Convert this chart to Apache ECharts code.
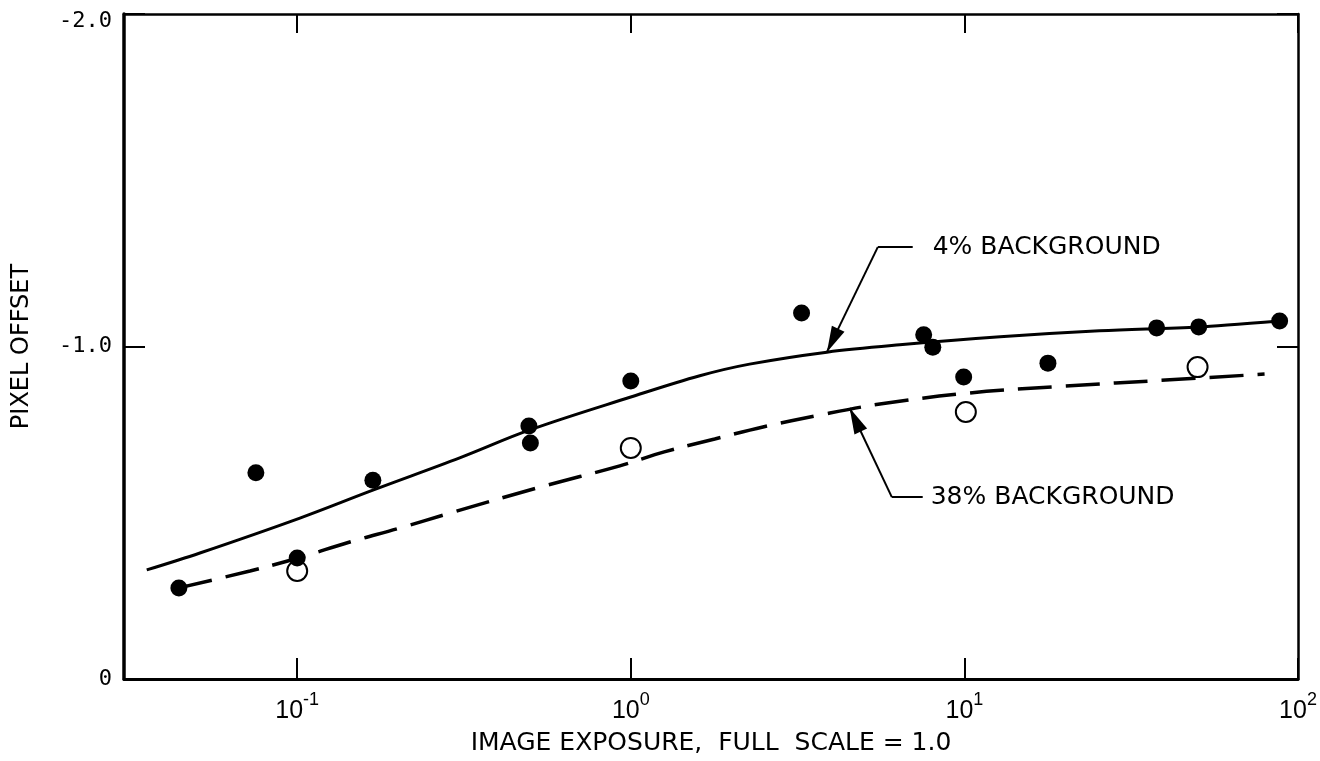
<!DOCTYPE html>
<html><head><meta charset="utf-8">
<script src="https://cdn.jsdelivr.net/npm/echarts@6/dist/echarts.min.js"></script>
<style>html,body{margin:0;padding:0;background:#fff;overflow:hidden}#c{width:1320px;height:761px}</style>
</head><body><div id="c"></div>
<script>
// ---- data ----
const xTickExponents = [-1, 0, 1, 2];
const xTickLabels = ['-1', '0', '1', '2'];
const yTickValues = [-2, -1, 0];
const yTickLabels = ['-2.0', '-1.0', '0'];

// filled dots (image exposure, pixel offset)
const filledX = [0.0442, 0.0752, 0.100, 0.1686, 0.495, 0.500, 1.0, 3.25, 7.55, 8.04, 9.95, 17.8, 37.7, 50.4, 88.1];
const filledY = [-0.274, -0.620, -0.364, -0.598, -0.761, -0.710, -0.896, -1.101, -1.035, -0.998, -0.908, -0.950, -1.056, -1.059, -1.077];

// open circles
const openX = [0.1, 1.0, 10.1, 50.0];
const openY = [-0.325, -0.695, -0.803, -0.938];

// 4% background curve (solid)
const curve4X = [0.0354, 0.0511, 0.1019, 0.1686, 0.307, 0.498, 1.0, 1.61, 2.27, 3.87, 6.40, 12.8, 25.4, 50.7, 88.0];
const curve4Y = [-0.328, -0.379, -0.484, -0.568, -0.665, -0.749, -0.848, -0.912, -0.947, -0.983, -1.005, -1.029, -1.047, -1.059, -1.077];

// 38% background curve (dashed)
const curve38X = [0.0442, 0.0722, 0.1007, 0.1438, 0.2032, 0.287, 0.534, 0.927, 1.26, 1.785, 2.49, 3.69, 5.58, 10.3, 20.1, 40.1, 79.4];
const curve38Y = [-0.274, -0.325, -0.364, -0.412, -0.454, -0.499, -0.577, -0.641, -0.683, -0.722, -0.758, -0.794, -0.827, -0.860, -0.881, -0.899, -0.917];

// annotations
const annotLabels = ['4% BACKGROUND', '38% BACKGROUND'];
const annotTips = [[3.87, -0.983], [4.53, -0.815]];
const annotElbows = [[5.5, -1.299], [6.06, -0.547]];
const annotEnds = [[7.0, -1.299], [7.5, -0.547]];

const xName = 'IMAGE EXPOSURE,  FULL  SCALE = 1.0';
const yName = 'PIXEL OFFSET';

// ---- chart ----
const zip = (a, b) => a.map((v, i) => [v, b[i]]);
const titleFont = 'DejaVu Sans';
const numFont = 'DejaVu Sans Mono';
const X_MIN = 0.03026, X_MAX = 100;

const chart = echarts.init(document.getElementById('c'), null, {renderer: 'canvas'});

const annotLines = [];
annotLabels.forEach((txt, i) => {
  annotLines.push([
    {coord: annotElbows[i], symbol: 'none'},
    {coord: annotEnds[i], symbol: 'none',
     label: {show: true, position: 'end', distance: i === 0 ? 20 : 8, formatter: txt,
             fontFamily: titleFont, fontSize: 25, color: '#000'}}
  ]);
  annotLines.push([
    {coord: annotElbows[i], symbol: 'none'},
    {coord: annotTips[i], symbol: 'triangle', symbolSize: [14, 26], symbolOffset: [0, '50%']}
  ]);
});

chart.setOption({
  backgroundColor: '#fff',
  animation: false,
  grid: {left: 124, right: 22, top: 14, bottom: 82, containLabel: false},
  xAxis: [{
    type: 'log', logBase: 10, min: X_MIN, max: X_MAX,
    name: xName, nameLocation: 'middle', nameGap: 52,
    nameTextStyle: {fontFamily: titleFont, fontSize: 25, color: '#000'},
    axisLine: {show: true, onZero: false, lineStyle: {color: '#000', width: 3}},
    axisTick: {show: true, inside: true, length: 21, lineStyle: {color: '#000', width: 2}},
    splitLine: {show: false}, minorTick: {show: false},
    axisLabel: {
      showMinLabel: false, margin: 12, color: '#000',
      formatter: v => {
        const e = Math.round(Math.log10(v));
        const k = xTickExponents.indexOf(e);
        if (k < 0) return '';
        return '{b|10}{s|' + xTickLabels[k] + '}';
      },
      rich: {
        b: {fontFamily: 'Liberation Sans', fontSize: 25, color: '#000', padding: [8, 0, 0, 0], verticalAlign: 'bottom'},
        s: {fontFamily: 'Liberation Sans', fontSize: 18, color: '#000', verticalAlign: 'top'}
      }
    }
  }, {
    type: 'log', logBase: 10, min: X_MIN, max: X_MAX, position: 'top',
    axisLine: {show: true, onZero: false, lineStyle: {color: '#000', width: 2.5}},
    axisTick: {show: true, inside: true, length: 19, lineStyle: {color: '#000', width: 2}},
    axisLabel: {show: false}, splitLine: {show: false}
  }],
  yAxis: [{
    type: 'value', inverse: true, min: -2, max: 0, interval: 1,
    name: yName, nameLocation: 'middle', nameGap: 90, nameRotate: 90,
    nameTextStyle: {fontFamily: titleFont, fontSize: 24, color: '#000'},
    axisLine: {show: true, onZero: false, lineStyle: {color: '#000', width: 3.5}},
    axisTick: {show: true, inside: true, length: 21, lineStyle: {color: '#000', width: 2}},
    splitLine: {show: false},
    axisLabel: {
      margin: 12, color: '#000', fontFamily: numFont, fontSize: 22,
      formatter: v => {
        const k = yTickValues.indexOf(v);
        if (k < 0) return '';
        return k === 0 ? '{t|' + yTickLabels[k] + '}' : yTickLabels[k];
      },
      rich: {
        t: {fontFamily: numFont, fontSize: 22, color: '#000', padding: [14, 0, 0, 0]}
      }
    }
  }, {
    type: 'value', inverse: true, min: -2, max: 0, interval: 1, position: 'right',
    axisLine: {show: true, onZero: false, lineStyle: {color: '#000', width: 2.5}},
    axisTick: {show: true, inside: true, length: 21, lineStyle: {color: '#000', width: 2}},
    axisLabel: {show: false}, splitLine: {show: false}
  }],
  series: [{
    name: '4% background', type: 'line', smooth: 0.35, showSymbol: false, symbol: 'none',
    data: zip(curve4X, curve4Y), lineStyle: {color: '#000', width: 3}, z: 2,
    markLine: {
      silent: true, animation: false,
      lineStyle: {color: '#000', width: 2, type: 'solid'},
      itemStyle: {color: '#000'},
      label: {show: false},
      emphasis: {disabled: true},
      data: annotLines
    }
  }, {
    name: '38% background', type: 'line', smooth: 0.35, showSymbol: false, symbol: 'none',
    data: zip(curve38X, curve38Y), lineStyle: {color: '#000', width: 3.5, type: [34, 14]}, z: 2
  }, {
    name: 'open', type: 'scatter', symbol: 'circle', symbolSize: 20,
    data: zip(openX, openY),
    itemStyle: {color: '#fff', borderColor: '#000', borderWidth: 2, opacity: 1}, z: 3
  }, {
    name: 'filled', type: 'scatter', symbol: 'circle', symbolSize: 17,
    data: zip(filledX, filledY),
    itemStyle: {color: '#000', opacity: 1}, z: 4
  }]
});
</script>
</body></html>
